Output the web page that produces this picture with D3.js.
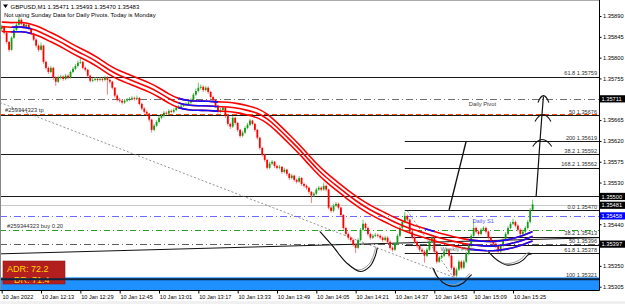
<!DOCTYPE html>
<html><head><meta charset="utf-8">
<script src="https://cdn.jsdelivr.net/npm/d3@7"></script>
<style>html,body{margin:0;padding:0;background:#fff;overflow:hidden}
text{font-family:"Liberation Sans",Arial,sans-serif}</style></head>
<body><svg id="c" width="625" height="304"></svg>
<script>
// ---------------- DATA ----------------
const symbolInfo = "GBPUSD,M1  1.35471 1.35493 1.35470 1.35483";
const pivotNote = "Not using Sunday Data for Daily Pivots.  Today is Monday";

const opens = [1.35862,1.35867,1.35854,1.35834,1.35817,1.35843,1.35860,1.35871,1.35882,1.35873,
1.35867,1.35871,1.35862,1.35852,1.35839,1.35826,1.35817,1.35826,1.35791,1.35778,
1.35769,1.35778,1.35757,1.35748,1.35757,1.35759,1.35754,1.35761,1.35757,1.35769,
1.35776,1.35782,1.35789,1.35791,1.35778,1.35774,1.35761,1.35750,1.35752,1.35754,
1.35752,1.35754,1.35752,1.35757,1.35752,1.35748,1.35735,1.35718,1.35709,1.35707,
1.35703,1.35707,1.35709,1.35711,1.35713,1.35711,1.35713,1.35700,1.35690,1.35683,
1.35679,1.35666,1.35644,1.35653,1.35661,1.35670,1.35674,1.35681,1.35679,1.35685,
1.35683,1.35687,1.35692,1.35694,1.35696,1.35698,1.35700,1.35703,1.35709,1.35720,
1.35728,1.35735,1.35737,1.35730,1.35735,1.35726,1.35715,1.35709,1.35696,1.35683,
1.35687,1.35692,1.35674,1.35657,1.35651,1.35670,1.35659,1.35644,1.35631,1.35638,
1.35648,1.35655,1.35664,1.35657,1.35644,1.35627,1.35605,1.35590,1.35579,1.35562,
1.35571,1.35575,1.35566,1.35562,1.35564,1.35553,1.35558,1.35549,1.35540,1.35545,
1.35536,1.35532,1.35540,1.35527,1.35523,1.35519,1.35510,1.35502,1.35506,1.35515,
1.35519,1.35515,1.35523,1.35515,1.35476,1.35469,1.35480,1.35484,1.35476,1.35460,
1.35432,1.35419,1.35411,1.35406,1.35396,1.35389,1.35406,1.35428,1.35441,1.35432,
1.35419,1.35411,1.35415,1.35417,1.35415,1.35411,1.35406,1.35411,1.35402,1.35389,
1.35385,1.35398,1.35415,1.35432,1.35445,1.35458,1.35450,1.35424,1.35411,1.35402,
1.35393,1.35385,1.35381,1.35372,1.35385,1.35402,1.35411,1.35381,1.35359,1.35368,
1.35372,1.35381,1.35385,1.35372,1.35346,1.35329,1.35342,1.35359,1.35346,1.35359,
1.35376,1.35393,1.35415,1.35432,1.35424,1.35419,1.35428,1.35432,1.35424,1.35411,
1.35402,1.35398,1.35393,1.35381,1.35393,1.35406,1.35419,1.35432,1.35441,1.35445,
1.35437,1.35428,1.35419,1.35424,1.35432,1.35445,1.35471];

const highs = [1.35871,1.35869,1.35857,1.35836,1.35846,1.35864,1.35876,1.35890,1.35885,1.35876,
1.35874,1.35873,1.35864,1.35854,1.35841,1.35829,1.35833,1.35828,1.35794,1.35781,
1.35782,1.35780,1.35760,1.35761,1.35763,1.35762,1.35765,1.35764,1.35772,1.35780,
1.35786,1.35794,1.35800,1.35793,1.35781,1.35776,1.35763,1.35756,1.35758,1.35757,
1.35758,1.35757,1.35761,1.35760,1.35755,1.35750,1.35737,1.35721,1.35713,1.35710,
1.35711,1.35713,1.35715,1.35717,1.35716,1.35718,1.35715,1.35703,1.35693,1.35686,
1.35681,1.35668,1.35657,1.35665,1.35674,1.35678,1.35685,1.35684,1.35689,1.35688,
1.35691,1.35696,1.35698,1.35700,1.35702,1.35704,1.35707,1.35713,1.35724,1.35733,
1.35746,1.35742,1.35740,1.35739,1.35738,1.35728,1.35718,1.35711,1.35698,1.35691,
1.35696,1.35694,1.35676,1.35660,1.35674,1.35672,1.35661,1.35646,1.35642,1.35652,
1.35659,1.35668,1.35666,1.35659,1.35646,1.35629,1.35607,1.35593,1.35581,1.35575,
1.35579,1.35577,1.35569,1.35568,1.35566,1.35562,1.35560,1.35551,1.35549,1.35547,
1.35539,1.35544,1.35542,1.35530,1.35526,1.35521,1.35512,1.35510,1.35519,1.35523,
1.35522,1.35530,1.35526,1.35517,1.35479,1.35484,1.35488,1.35487,1.35478,1.35462,
1.35435,1.35422,1.35414,1.35409,1.35399,1.35410,1.35432,1.35450,1.35444,1.35435,
1.35422,1.35419,1.35421,1.35420,1.35418,1.35414,1.35415,1.35414,1.35405,1.35392,
1.35402,1.35419,1.35436,1.35449,1.35467,1.35461,1.35452,1.35427,1.35414,1.35405,
1.35396,1.35389,1.35384,1.35389,1.35406,1.35415,1.35414,1.35383,1.35372,1.35376,
1.35385,1.35389,1.35388,1.35375,1.35349,1.35346,1.35363,1.35362,1.35363,1.35380,
1.35397,1.35419,1.35450,1.35435,1.35427,1.35432,1.35436,1.35435,1.35427,1.35414,
1.35405,1.35401,1.35396,1.35397,1.35410,1.35423,1.35436,1.35445,1.35452,1.35448,
1.35440,1.35431,1.35428,1.35436,1.35449,1.35475,1.35493];

const lows = [1.35858,1.35850,1.35830,1.35813,1.35815,1.35840,1.35858,1.35869,1.35870,1.35863,
1.35864,1.35859,1.35849,1.35836,1.35822,1.35813,1.35815,1.35787,1.35774,1.35765,
1.35766,1.35752,1.35739,1.35745,1.35753,1.35750,1.35751,1.35753,1.35755,1.35766,
1.35773,1.35779,1.35786,1.35775,1.35770,1.35757,1.35746,1.35747,1.35749,1.35748,
1.35749,1.35748,1.35749,1.35720,1.35744,1.35731,1.35714,1.35705,1.35703,1.35699,
1.35700,1.35704,1.35706,1.35708,1.35707,1.35708,1.35697,1.35686,1.35679,1.35675,
1.35662,1.35638,1.35641,1.35650,1.35658,1.35667,1.35671,1.35676,1.35676,1.35680,
1.35680,1.35684,1.35689,1.35691,1.35693,1.35695,1.35697,1.35700,1.35706,1.35717,
1.35725,1.35731,1.35726,1.35727,1.35722,1.35711,1.35705,1.35692,1.35679,1.35680,
1.35684,1.35670,1.35653,1.35646,1.35648,1.35655,1.35640,1.35627,1.35628,1.35635,
1.35645,1.35652,1.35654,1.35640,1.35623,1.35601,1.35586,1.35575,1.35558,1.35559,
1.35568,1.35562,1.35558,1.35559,1.35549,1.35550,1.35545,1.35536,1.35537,1.35532,
1.35528,1.35529,1.35523,1.35519,1.35515,1.35506,1.35486,1.35499,1.35503,1.35512,
1.35511,1.35512,1.35511,1.35472,1.35465,1.35466,1.35477,1.35472,1.35456,1.35428,
1.35415,1.35407,1.35402,1.35392,1.35378,1.35386,1.35403,1.35425,1.35428,1.35415,
1.35407,1.35408,1.35412,1.35411,1.35407,1.35402,1.35403,1.35398,1.35385,1.35381,
1.35382,1.35395,1.35412,1.35429,1.35442,1.35446,1.35420,1.35407,1.35398,1.35389,
1.35381,1.35376,1.35357,1.35369,1.35382,1.35399,1.35377,1.35355,1.35356,1.35365,
1.35369,1.35378,1.35368,1.35342,1.35318,1.35326,1.35339,1.35342,1.35343,1.35356,
1.35373,1.35390,1.35412,1.35420,1.35415,1.35416,1.35425,1.35420,1.35407,1.35398,
1.35394,1.35389,1.35377,1.35378,1.35390,1.35403,1.35416,1.35429,1.35438,1.35433,
1.35424,1.35415,1.35416,1.35421,1.35429,1.35442,1.35470];

const closes = [1.35867,1.35854,1.35834,1.35817,1.35843,1.35860,1.35871,1.35882,1.35873,1.35867,
1.35871,1.35862,1.35852,1.35839,1.35826,1.35817,1.35826,1.35791,1.35778,1.35769,
1.35778,1.35757,1.35748,1.35757,1.35759,1.35754,1.35761,1.35757,1.35769,1.35776,
1.35782,1.35789,1.35791,1.35778,1.35774,1.35761,1.35750,1.35752,1.35754,1.35752,
1.35754,1.35752,1.35757,1.35752,1.35748,1.35735,1.35718,1.35709,1.35707,1.35703,
1.35707,1.35709,1.35711,1.35713,1.35711,1.35713,1.35700,1.35690,1.35683,1.35679,
1.35666,1.35644,1.35653,1.35661,1.35670,1.35674,1.35681,1.35679,1.35685,1.35683,
1.35687,1.35692,1.35694,1.35696,1.35698,1.35700,1.35703,1.35709,1.35720,1.35728,
1.35735,1.35737,1.35730,1.35735,1.35726,1.35715,1.35709,1.35696,1.35683,1.35687,
1.35692,1.35674,1.35657,1.35651,1.35670,1.35659,1.35644,1.35631,1.35638,1.35648,
1.35655,1.35664,1.35657,1.35644,1.35627,1.35605,1.35590,1.35579,1.35562,1.35571,
1.35575,1.35566,1.35562,1.35564,1.35553,1.35558,1.35549,1.35540,1.35545,1.35536,
1.35532,1.35540,1.35527,1.35523,1.35519,1.35510,1.35502,1.35506,1.35515,1.35519,
1.35515,1.35523,1.35515,1.35476,1.35469,1.35480,1.35484,1.35476,1.35460,1.35432,
1.35419,1.35411,1.35406,1.35396,1.35389,1.35406,1.35428,1.35441,1.35432,1.35419,
1.35411,1.35415,1.35417,1.35415,1.35411,1.35406,1.35411,1.35402,1.35389,1.35385,
1.35398,1.35415,1.35432,1.35445,1.35458,1.35450,1.35424,1.35411,1.35402,1.35393,
1.35385,1.35381,1.35372,1.35385,1.35402,1.35411,1.35381,1.35359,1.35368,1.35372,
1.35381,1.35385,1.35372,1.35346,1.35329,1.35342,1.35359,1.35346,1.35359,1.35376,
1.35393,1.35415,1.35432,1.35424,1.35419,1.35428,1.35432,1.35424,1.35411,1.35402,
1.35398,1.35393,1.35381,1.35393,1.35406,1.35419,1.35432,1.35441,1.35445,1.35437,
1.35428,1.35419,1.35424,1.35432,1.35445,1.35471,1.35483];

// moving-average envelope (mid line), sampled every 4 bars
const maBars = [0,4,8,12,16,20,24,28,32,36,40,44,48,52,56,60,64,68,72,76,80,84,88,92,96,100,104,108,112,116,120,124,128,132,136,140,144,148,152,156,160,164,168,172,176,180,184,188,192,196,200,204,208,212,216];
const maMid = [1.35867,1.35865,1.35867,1.35863,1.35855,1.35844,1.35834,1.35821,1.35810,1.35800,1.35787,1.35772,1.35761,1.35753,1.35744,1.35736,1.35725,1.35711,1.35701,1.35697,1.35696,1.35696,1.35694,1.35694,1.35691,1.35686,1.35681,1.35669,1.35650,1.35629,1.35608,1.35585,1.35561,1.35541,1.35524,1.35507,1.35491,1.35477,1.35465,1.35455,1.35444,1.35435,1.35427,1.35421,1.35414,1.35408,1.35403,1.35398,1.35395,1.35393,1.35392,1.35395,1.35399,1.35405,1.35414];
const maEnvelope = 0.0001;
const maBlueRanges = [[4,12],[72,88],[172,176],[190,216]];

const timeTickBars = [0,16,32,48,64,80,96,112,128,144,160,176,192,208];
const timeTickLabels = ["10 Jan 2022","10 Jan 12:13","10 Jan 12:29","10 Jan 12:45","10 Jan 13:01","10 Jan 13:17","10 Jan 13:33","10 Jan 13:49","10 Jan 14:05","10 Jan 14:21","10 Jan 14:37","10 Jan 14:53","10 Jan 15:09","10 Jan 15:25"];
const priceTicks = [1.35305,1.35350,1.35395,1.35440,1.35485,1.35530,1.35575,1.35620,1.35665,1.35710,1.35755,1.35800,1.35845,1.35890];
const priceTickLabels = ["1.35305","1.35350","","1.35440","","1.35530","1.35575","1.35620","1.35665","","1.35755","1.35800","1.35845","1.35890"];

const fibUpperRatios = ["61.8","50","38.2"];
const fibUpperPrices = [1.35759,1.35676,1.35592];
const fibLowerRatios = ["200","168.2","0.0","38.2","50","61.8"];
const fibLowerPrices = [1.35619,1.35562,1.35470,1.35413,1.35396,1.35378];
const fibLowerStartBar = 164;
const fib100 = {ratio:"100", price:1.35321};
const roundLevel = 1.35500;
const bidLevel = 1.35481;

const pivotNames = ["Daily Pivot","Daily S1","Weekly Pivot"];
const pivotPrices = [1.35711,1.35458,1.35397];
const pivotLabelBars = [190,191.5,178.5];
const orderLabels = ["#259344323 tp","#259344323 buy 0.20"];
const orderPrices = [1.35679,1.35427];

const axisMarkPrices = [1.35711,1.35500,1.35481,1.35458,1.35397];
const bandTop = 1.35326;

const slopeLine = [[-0.7,1.35376],[243,1.35411]];
const dotLines = [[[-0.7,1.35703],[186.5,1.35320]],[[165,1.35469],[184.4,1.35320]]];
const straightStroke = [[182,1.35471],[188.9,1.35618]];
const arrowStroke = [[217.4,1.35499],[218.2,1.35558],[219,1.35620],[219.8,1.35677],[220.4,1.35716]];
const arrowTips = [[220.4,1.35718],[220.2,1.35677],[219.9,1.35623]];
const smileCurves = [
 [[129.5,1.35424],[134.8,1.35392],[140.4,1.35356],[145.8,1.35338],[149.8,1.35349],[151.9,1.35370],[152.8,1.35389]],
 [[175.6,1.35345],[177.6,1.35324],[181,1.35309],[184.4,1.35306],[187.8,1.35313],[189.8,1.35324],[191.2,1.35331]],
 [[198,1.35381],[201.4,1.35363],[205.4,1.35352],[209.5,1.35355],[212.2,1.35363],[214.2,1.35374],[215.6,1.35376]]
];
const adrValue = 72.2, drValue = 71.4;

// ---------------- DRAW ----------------
const svg = d3.select("#c");
const W = 625, H = 304, PR = 599, PB = 290;
const xs = d3.scaleLinear().domain([0, 243]).range([1.7, 599]);
const ys = d3.scaleLinear().domain([1.35305, 1.35890]).range([286.7, 16]);
const py = p => Math.round(ys(p)) + 0.5;

svg.append("rect").attr("width", W).attr("height", H).attr("fill", "#fff");
svg.append("rect").attr("x", 0).attr("y", 301).attr("width", W).attr("height", 3).attr("fill", "#f0f0f0");

const defs = svg.append("defs");
defs.append("clipPath").attr("id", "plot").append("rect").attr("x", 0).attr("y", 0).attr("width", PR).attr("height", PB);
const g = svg.append("g").attr("clip-path", "url(#plot)");

// blue band
g.append("rect").attr("x", 0).attr("y", ys(bandTop)).attr("width", PR).attr("height", PB - ys(bandTop)).attr("fill", "#1e90ff");
g.append("line").attr("x1", 0).attr("x2", PR).attr("y1", ys(bandTop) + 0.5).attr("y2", ys(bandTop) + 0.5).attr("stroke", "#6db6ff").attr("stroke-width", 1);

// ADR box
const adrG = svg.append("g");
adrG.append("rect").attr("x", 3).attr("y", 261).attr("width", 62).attr("height", 23).attr("fill", "#b31f1f").attr("stroke", "#8e1717").attr("stroke-width", 0.6);

function hline(p, x0, stroke, w, dash) {
  const l = g.append("line").attr("x1", x0).attr("x2", PR).attr("y1", py(p)).attr("y2", py(p))
    .attr("stroke", stroke).attr("stroke-width", w);
  if (dash) l.attr("stroke-dasharray", dash);
  return l;
}
hline(bidLevel, 0, "#c8c8c8", 1);
hline(pivotPrices[0], 0, "#707070", 1, "7,3,1,3");
hline(pivotPrices[1], 0, "#6a6aff", 1, "7,3,1,3");
hline(pivotPrices[2], 0, "#606060", 1, "7,3,1,3");
hline(orderPrices[0], 0, "#ff4500", 1, "5,3");
hline(orderPrices[1], 0, "#2aa02a", 1, "6,3,1,3");
fibUpperPrices.forEach(p => hline(p, 0, "#1a1a1a", 1));
hline(roundLevel, 0, "#1a1a1a", 1);
fibLowerPrices.forEach(p => hline(p, xs(fibLowerStartBar), "#1a1a1a", 1));

const ln = d3.line().x(d => xs(d[0])).y(d => ys(d[1]));
g.append("path").attr("d", ln(slopeLine)).attr("fill", "none").attr("stroke", "#111").attr("stroke-width", 1);
dotLines.forEach(dl => g.append("path").attr("d", ln(dl)).attr("fill", "none").attr("stroke", "#777").attr("stroke-width", 0.8).attr("stroke-dasharray", "2,2"));

// candles
const bars = closes.map((c, i) => ({i, o: opens[i], h: highs[i], l: lows[i], c}));
const cg = g.append("g");
cg.selectAll("line").data(bars).join("line")
  .attr("x1", d => xs(d.i)).attr("x2", d => xs(d.i))
  .attr("y1", d => ys(d.h)).attr("y2", d => ys(d.l))
  .attr("stroke", d => d.c >= d.o ? "#62bf62" : "#ff6a6a").attr("stroke-width", 0.9);
cg.selectAll("rect").data(bars).join("rect")
  .attr("x", d => xs(d.i) - 0.9).attr("width", 1.8)
  .attr("y", d => ys(Math.max(d.o, d.c)))
  .attr("height", d => Math.max(0.9, Math.abs(ys(d.o) - ys(d.c))))
  .attr("fill", d => d.c >= d.o ? "#149a14" : "#ff0000");

// MA envelope
const maPts = maBars.map((b, k) => [b, maMid[k]]);
const offs = [maEnvelope, 0, -maEnvelope];
const maLine = off => d3.line().x(d => xs(d[0])).y(d => ys(d[1] + off)).curve(d3.curveBasis)(maPts);
offs.forEach(off => g.append("path").attr("d", maLine(off)).attr("fill", "none").attr("stroke", "#ff0000").attr("stroke-width", 1.6));
maBlueRanges.forEach((r, k) => {
  const id = "bl" + k;
  defs.append("clipPath").attr("id", id).append("rect").attr("x", xs(r[0])).attr("y", 0).attr("width", xs(r[1]) - xs(r[0])).attr("height", PB);
  const which = k === 0 ? offs.slice(1) : (k === 2 ? offs.slice(0, 1) : offs);
  const bg = g.append("g").attr("clip-path", `url(#${id})`);
  which.forEach(off => bg.append("path").attr("d", maLine(off)).attr("fill", "none").attr("stroke", "#1010ff").attr("stroke-width", 1.6));
});

// hand-drawn curves
const cl = d3.line().x(d => xs(d[0])).y(d => ys(d[1])).curve(d3.curveCatmullRom);
smileCurves.forEach(c => {
  g.append("path").attr("d", cl(c)).attr("fill", "none").attr("stroke", "#999").attr("stroke-width", 1).attr("transform", "translate(-1.5,-1.5)");
  g.append("path").attr("d", cl(c)).attr("fill", "none").attr("stroke", "#111").attr("stroke-width", 1.1);
});
g.append("path").attr("d", ln(straightStroke)).attr("fill", "none").attr("stroke", "#111").attr("stroke-width", 1.4);
g.append("path").attr("d", cl(arrowStroke)).attr("fill", "none").attr("stroke", "#111").attr("stroke-width", 1.2);
const headW = [5.5, 8, 9.5];
arrowTips.forEach((t, k) => {
  const w = headW[k];
  g.append("path").attr("transform", `translate(${xs(t[0])},${ys(t[1])})`)
    .attr("d", `M${-w},7 Q${-w * 0.5},0 0,0 Q${w * 0.5},0 ${w},7`)
    .attr("fill", "none").attr("stroke", "#111").attr("stroke-width", 1.1);
});

svg.append("line").attr("x1", 0).attr("x2", PR).attr("y1", ys(fib100.price)).attr("y2", ys(fib100.price))
  .attr("stroke", "#0c2440").attr("stroke-width", 2);

const lab = svg.append("g").attr("font-size", 5.6).attr("fill", "#303030").attr("text-anchor", "end");
fibUpperRatios.forEach((r, k) => lab.append("text").attr("x", 597).attr("y", ys(fibUpperPrices[k]) - 1.3).text(`${r} ${fibUpperPrices[k].toFixed(5)}`));
fibLowerRatios.forEach((r, k) => lab.append("text").attr("x", 597).attr("y", ys(fibLowerPrices[k]) - 1.3).text(`${r} ${fibLowerPrices[k].toFixed(5)}`));
lab.append("text").attr("x", 597).attr("y", ys(fib100.price) - 2).text(`${fib100.ratio} ${fib100.price.toFixed(5)}`);

const pl = svg.append("g").attr("font-size", 5.8);
pl.append("text").attr("x", xs(pivotLabelBars[0])).attr("y", ys(pivotPrices[0]) + 7).attr("fill", "#404040").text(pivotNames[0]);
pl.append("text").attr("x", xs(pivotLabelBars[1])).attr("y", ys(pivotPrices[1]) + 7).attr("fill", "#5252ff").text(pivotNames[1]);
pl.append("text").attr("x", xs(pivotLabelBars[2])).attr("y", ys(pivotPrices[2]) + 7).attr("fill", "#707070").text(pivotNames[2]);
pl.append("text").attr("x", 5).attr("y", ys(orderPrices[0]) - 1.3).attr("fill", "#303030").text(orderLabels[0]);
pl.append("text").attr("x", 7).attr("y", ys(orderPrices[1]) - 2).attr("fill", "#303030").text(orderLabels[1]);

svg.append("path").attr("d", "M3,4.5 L8,4.5 L5.5,8 Z").attr("fill", "#000");
svg.append("text").attr("x", 10.5).attr("y", 8.6).attr("font-size", 6).attr("fill", "#000").text(symbolInfo);
svg.append("text").attr("x", 4).attr("y", 17).attr("font-size", 6).attr("fill", "#000").text(pivotNote);

adrG.append("text").attr("x", 7).attr("y", 271.5).attr("font-size", 9).attr("fill", "#ffd700").text(`ADR: ${adrValue.toFixed(1)}`);
adrG.append("text").attr("x", 14).attr("y", 282.5).attr("font-size", 9).attr("fill", "#ffd700").text(`DR: ${drValue.toFixed(1)}`);

svg.append("line").attr("x1", 0.5).attr("x2", 0.5).attr("y1", 0).attr("y2", PB).attr("stroke", "#888");
svg.append("line").attr("x1", 0).attr("x2", PR).attr("y1", 0.5).attr("y2", 0.5).attr("stroke", "#aaa");
svg.append("line").attr("x1", PR + 0.5).attr("x2", PR + 0.5).attr("y1", 0).attr("y2", PB + 0.5).attr("stroke", "#000");
svg.append("line").attr("x1", 0).attr("x2", PR + 0.5).attr("y1", PB + 0.5).attr("y2", PB + 0.5).attr("stroke", "#000");

const ya = svg.append("g").attr("transform", `translate(${PR + 0.5},0)`)
  .call(d3.axisRight(ys).tickValues(priceTicks).tickSize(2).tickPadding(1.5).tickFormat((d, i) => priceTickLabels[i]));
ya.select(".domain").remove();
ya.selectAll("text").attr("font-size", 5.7).attr("fill", "#000").attr("font-family", "Liberation Sans, Arial, sans-serif");
ya.selectAll("line").attr("stroke", "#000");

const xa = svg.append("g").attr("transform", `translate(0,${PB + 0.5})`)
  .call(d3.axisBottom(xs).tickValues(timeTickBars).tickSize(3).tickPadding(1.8).tickFormat((d, i) => timeTickLabels[i]));
xa.select(".domain").remove();
xa.selectAll("text").attr("font-size", 5.6).attr("fill", "#000").attr("text-anchor", "start").attr("dx", 0.3).attr("font-family", "Liberation Sans, Arial, sans-serif");
xa.selectAll("line").attr("stroke", "#000");

const am = svg.append("g");
axisMarkPrices.forEach(p => {
  const y = ys(p);
  const isS1 = Math.abs(p - pivotPrices[1]) < 1e-9;
  am.append("rect").attr("x", PR + 1).attr("y", y - 3.6).attr("width", W - PR - 1).attr("height", 7.2).attr("fill", isS1 ? "#0000ff" : "#000");
  am.append("text").attr("x", PR + 2.5).attr("y", y + 2.1).attr("font-size", 5.7).attr("fill", "#fff").text(p.toFixed(5));
});
</script></body></html>
